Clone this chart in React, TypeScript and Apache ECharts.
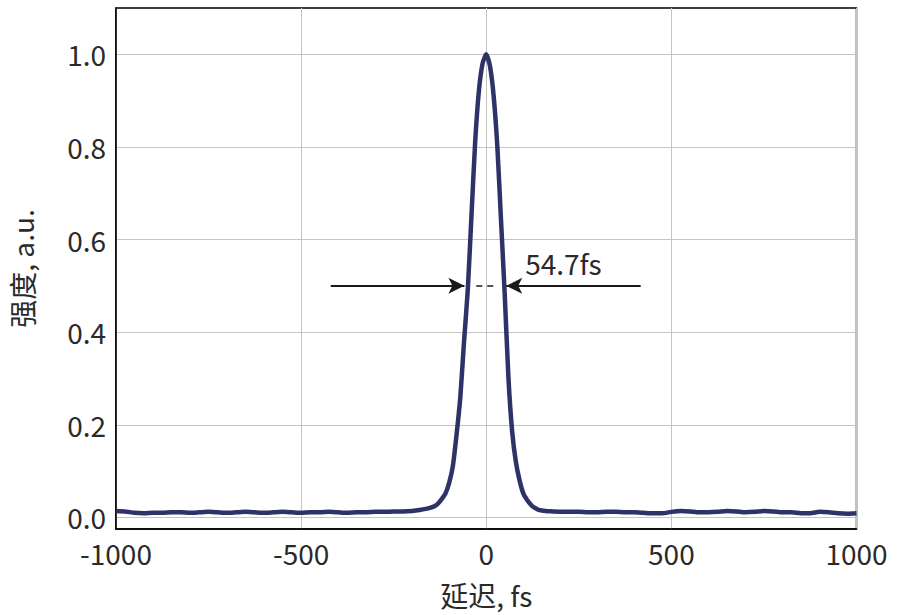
import React, { useEffect, useRef } from "react";
import * as echarts from "echarts";

const delayFs: number[] = [
  -1000, -975, -950, -925, -900, -875, -850, -825, -800, -775, -750, -725, -700, -675, -650, -625, -600,
  -575, -550, -525, -500, -475, -450, -425, -400, -375, -350, -325, -300, -275, -250, -225, -200,
  -180, -160, -150, -140, -130, -120, -110, -100, -90, -80, -70, -60, -50, -40, -30, -20, -10,
  0, 10, 20, 30, 40, 50, 60, 70, 80, 90, 100, 110, 120, 130, 140, 150, 160, 180, 200,
  225, 250, 275, 300, 325, 350, 375, 400, 425, 450, 475, 500, 525, 550, 575, 600, 625, 650, 675,
  700, 725, 750, 775, 800, 825, 850, 875, 900, 925, 950, 975, 1000,
];

const intensity: number[] = [
  0.014, 0.013, 0.010, 0.009, 0.010, 0.010, 0.011, 0.011, 0.010, 0.011, 0.012, 0.011, 0.010, 0.011, 0.012, 0.011, 0.010,
  0.011, 0.012, 0.011, 0.010, 0.011, 0.011, 0.012, 0.011, 0.010, 0.011, 0.011, 0.012, 0.012, 0.013, 0.013, 0.014,
  0.016, 0.019, 0.021, 0.024, 0.030, 0.040, 0.052, 0.075, 0.112, 0.18, 0.26, 0.38, 0.49, 0.65, 0.81, 0.92, 0.98,
  1.0, 0.975, 0.91, 0.80, 0.64, 0.48, 0.30, 0.185, 0.12, 0.08, 0.052, 0.038, 0.028, 0.021, 0.017, 0.015, 0.014, 0.013, 0.012,
  0.012, 0.012, 0.011, 0.011, 0.012, 0.012, 0.011, 0.011, 0.010, 0.009, 0.009, 0.012, 0.014, 0.013, 0.011, 0.011, 0.012, 0.014, 0.013,
  0.011, 0.012, 0.014, 0.013, 0.011, 0.011, 0.009, 0.009, 0.012, 0.011, 0.009, 0.008, 0.009,
];

const xTicks: number[] = [-1000, -500, 0, 500, 1000];
const yTicks: number[] = [0, 0.2, 0.4, 0.6, 0.8, 1.0];

const fwhmLabel = "54.7fs";
const halfMax = 0.5;
const leftArrow: number[] = [-420, -59];
const rightArrow: number[] = [417, 54];
const dashSpan: number[] = [-27, 27];
const labelPos: number[] = [105, 0.55];

const FONT = "'Noto Sans CJK SC', 'Noto Sans', sans-serif";
const TEXT_COLOR = "#2a2a2a";

export default function App() {
  const ref = useRef<HTMLDivElement>(null);
  useEffect(() => {
    document.body.style.margin = "0";
    const chart = echarts.init(ref.current!, null, { renderer: "svg" });
    const data = delayFs.map((x, i) => [x, intensity[i]]);
    chart.setOption({
      animation: false,
      backgroundColor: "#ffffff",
      textStyle: { fontFamily: FONT },
      grid: {
        left: 113.5,
        right: 46.5,
        top: 8,
        bottom: 86,
        show: true,
        borderColor: "#000",
        borderWidth: 1.5,
        backgroundColor: "transparent",
      },
      xAxis: {
        type: "value",
        min: -1000,
        max: 1000,
        interval: 500,
        name: "延迟, fs",
        nameLocation: "middle",
        nameGap: 52,
        nameTextStyle: { fontSize: 28, color: TEXT_COLOR, fontFamily: FONT },
        axisLine: { show: true, onZero: false, lineStyle: { color: "#000", width: 1.5 } },
        axisTick: { show: false, customValues: xTicks },
        axisLabel: {
          customValues: xTicks,
          fontSize: 28,
          color: TEXT_COLOR,
          fontFamily: FONT,
          margin: 10,
          formatter: (v: number) => (v < 0 ? "-" + Math.abs(v) : String(v)),
        },
        splitLine: { show: true, lineStyle: { color: "#c4c4c4", width: 1 } },
      },
      yAxis: {
        type: "value",
        min: -0.025,
        max: 1.1,
        name: "强度, a.u.",
        nameLocation: "middle",
        nameGap: 80,
        nameTextStyle: { fontSize: 28, color: TEXT_COLOR, fontFamily: FONT },
        axisLine: { show: true, onZero: false, lineStyle: { color: "#000", width: 1.5 } },
        axisTick: { show: false, customValues: yTicks },
        axisLabel: {
          customValues: yTicks,
          fontSize: 28,
          color: TEXT_COLOR,
          fontFamily: FONT,
          margin: 10,
          formatter: (v: number) => v.toFixed(1),
        },
        splitLine: { show: true, lineStyle: { color: "#c4c4c4", width: 1 } },
      },
      series: [
        {
          type: "line",
          data,
          showSymbol: false,
          symbol: "none",
          smooth: 0.2,
          lineStyle: { color: "#2d3366", width: 4.5 },
          z: 3,
          markLine: {
            silent: true,
            symbol: ["none", "arrow"],
            symbolSize: [12, 16],
            label: { show: false },
            lineStyle: { color: "#1a1a1a", width: 2, type: "solid" },
            data: [
              [{ coord: [leftArrow[0], halfMax] }, { coord: [leftArrow[1], halfMax] }],
              [{ coord: [rightArrow[0], halfMax] }, { coord: [rightArrow[1], halfMax] }],
              [
                { coord: [dashSpan[0], halfMax], symbol: "none", lineStyle: { type: [6, 5], width: 1.5, color: "#1a1a1a" } },
                { coord: [dashSpan[1], halfMax], symbol: "none" },
              ],
            ],
          },
          markPoint: {
            silent: true,
            symbol: "circle",
            symbolSize: 0,
            data: [
              {
                coord: labelPos,
                label: {
                  show: true,
                  position: "right",
                  distance: 0,
                  formatter: fwhmLabel,
                  fontSize: 28,
                  color: TEXT_COLOR,
                  fontFamily: FONT,
                },
              },
            ],
          },
        },
      ],
    });
    return () => chart.dispose();
  }, []);
  return <div ref={ref} style={{ width: 903, height: 615 }} />;
}
